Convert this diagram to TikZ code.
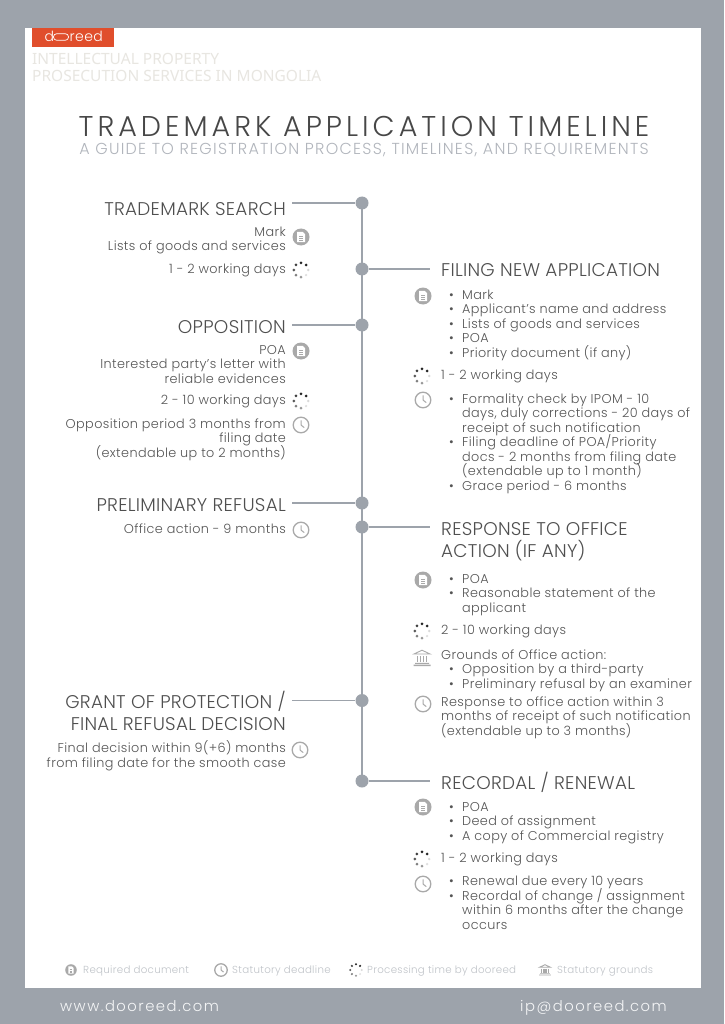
\documentclass[tikz,border=0pt]{standalone}
\usepackage{fontspec}
\setmainfont{Poppins Light}[LetterSpace=3]
\newfontfamily\headfont{Poppins Light}[LetterSpace=1.5]
\newfontfamily\titlefont{Poppins Light}[LetterSpace=14]
\newfontfamily\subfont{Poppins Light}[LetterSpace=8]
\newfontfamily\footfont{Poppins Light}[LetterSpace=10]
\newfontfamily\topfont{Noto Sans}
\definecolor{bgrey}{HTML}{9DA3AB}
\definecolor{txt}{HTML}{555555}
\definecolor{head}{HTML}{4F4F4F}
\definecolor{orng}{HTML}{E04E2C}
\definecolor{iconc}{HTML}{A9A9A9}
\definecolor{legc}{HTML}{BFC3C8}
\definecolor{topc}{HTML}{E8E6E1}
\newcommand{\tightls}{\lineskiplimit=-30pt\relax}
\newcommand{\bodyf}{\tightls\fontsize{12.8}{14.45}\selectfont}
\newcommand{\headf}{\tightls\headfont\fontsize{18.4}{22}\selectfont}
\newcommand{\topf}{\tightls\topfont\fontsize{15.5}{17.5}\selectfont}
\newcommand{\blt}{\leavevmode\llap{\textbullet\hspace{8.5pt}}}
\tikzset{
 body/.style={inner sep=0pt,font=\bodyf,text=txt},
 rtxt/.style={body,anchor=base east,align=right},
 ltxt/.style={body,anchor=base west,align=left},
 rhead/.style={inner sep=0pt,anchor=base east,align=right,text=head,font=\headf},
 lhead/.style={inner sep=0pt,anchor=base west,align=left,text=head,font=\headf},
 dotn/.style={circle,fill=bgrey,inner sep=0pt,minimum size=13pt},
 tline/.style={draw=bgrey,line width=1.8pt},
 legt/.style={inner sep=0pt,anchor=base west,text=legc,font=\fontsize{10.25}{12}\selectfont},
 docicon/.pic={
  \fill[iconc] (0,0) circle (8.5);
  \fill[white] (-3.8,-5.2) -- (1.6,-5.2) -- (4,-2.8) -- (4,5.2) -- (-3.8,5.2) -- cycle;
  \draw[iconc,line width=.6pt] (-2,-.5) -- (2.2,-.5) (-2,1.3) -- (2.2,1.3) (-2,3) -- (2.2,3);
 },
 spinicon/.pic={
  \foreach \a/\g/\r in {-90/85/1.5,-45/85/1.5,0/15/1.3,45/12/1.3,90/40/1.5,135/50/1.5,180/65/1.5,-135/75/1.5}
   \fill[black!\g] (\a:7.2) circle (\r);
 },
 clockicon/.pic={
  \draw[iconc,line width=1.3pt] (0,0) circle (7.8);
  \draw[iconc,line width=1pt] (0,-4.6) -- (0,0) -- (3.2,2.6);
 },
 bankicon/.pic={
  \draw[iconc,line width=.9pt] (-8,-4) -- (0,-7.8) -- (8,-4) -- cycle;
  \draw[iconc,line width=1.2pt] (-4.6,-2.2) -- (-4.6,4.2) (-1.6,-2.2) -- (-1.6,4.2) (1.6,-2.2) -- (1.6,4.2) (4.6,-2.2) -- (4.6,4.2);
  \fill[iconc] (-7,4.8) rectangle (7,5.8) (-8.5,6.6) rectangle (8.5,8);
 },
}
\begin{document}
\begin{tikzpicture}[x=1pt,y=-1pt]
\useasboundingbox (0,0) rectangle (724,1024);
\fill[bgrey] (0,0) rectangle (724,1024);
\fill[white] (25,28) rectangle (701,988);
\fill[orng] (32,28) rectangle (113.5,47);
% logo
\node[inner sep=0pt,anchor=base west,text=white,font=\fontsize{14}{14}\selectfont] (logod) at (44.5,42) {d};
\draw[white,line width=.7pt,rounded corners=3pt] (53.5,33.8) rectangle (68.5,40.2);
\node[inner sep=0pt,anchor=base west,text=white,font=\fontsize{14}{14}\selectfont] (logor) at (69.5,42) {reed};
% header
\node[inner sep=0pt,anchor=base west,align=left,text=topc,font=\topf] (top) at (32,82) {INTELLECTUAL PROPERTY\\PROSECUTION SERVICES IN MONGOLIA};
\node[inner sep=0pt,anchor=base,text height=21pt,text depth=0pt,text=black!72,font=\titlefont\fontsize{28.6}{30}\selectfont] (title) at (364,137) {TRADEMARK APPLICATION TIMELINE};
\node[inner sep=0pt,anchor=base,text height=11.5pt,text depth=1pt,text=bgrey!80,font=\subfont\fontsize{15.9}{17}\selectfont] (sub) at (364,155) {A GUIDE TO REGISTRATION PROCESS, TIMELINES, AND REQUIREMENTS};
% timeline
\node[dotn] (d1) at (362,203) {};
\node[dotn] (d2) at (362,269) {};
\node[dotn] (d3) at (362,325) {};
\node[dotn] (d4) at (362,503) {};
\node[dotn] (d5) at (362,527) {};
\node[dotn] (d6) at (362,700.5) {};
\node[dotn] (d7) at (362,781) {};
\coordinate (e1) at (292,203);
\coordinate (e2) at (430,269);
\coordinate (e3) at (292,325);
\coordinate (e4) at (292,503);
\coordinate (e5) at (430,527);
\coordinate (e6) at (292,700.5);
\coordinate (e7) at (430,781);
\draw[tline] (d1.center) -- (d7.center);
\draw[tline] (e1) -- (d1) (d2) -- (e2) (e3) -- (d3) (e4) -- (d4) (d5) -- (e5) (e6) -- (d6) (d7) -- (e7);
% left column
\node[rhead] (h1) at (286,216) {TRADEMARK SEARCH};
\node[rtxt] (l1) at (286,251) {Mark\\Lists of goods and services};
\node[rtxt] (l2) at (286,273) {1 - 2 working days};
\node[rhead] (h2) at (286,333) {OPPOSITION};
\node[rtxt] (l3) at (286,383) {POA\\Interested party's letter with\\reliable evidences};
\node[rtxt] (l4) at (286,404) {2 - 10 working days};
\node[rtxt] (l5) at (286,457) {Opposition period 3 months from\\filing date\\(extendable up to 2 months)};
\node[rhead] (h3) at (286,511) {PRELIMINARY REFUSAL};
\node[rtxt] (l6) at (286,533) {Office action - 9 months};
\node[rhead] (h4) at (286,730) {GRANT OF PROTECTION /\\FINAL REFUSAL DECISION};
\node[rtxt] (l7) at (286,767) {Final decision within 9(+6) months\\from filing date for the smooth case};
% right column
\node[lhead] (h5) at (441,276.5) {FILING NEW APPLICATION};
\node[ltxt] (r1) at (462,357) {\blt Mark\\\blt Applicant's name and address\\\blt Lists of goods and services\\\blt POA\\\blt Priority document (if any)};
\node[ltxt] (r2) at (441,379) {1 - 2 working days};
\node[ltxt] (r3) at (462,490) {\blt Formality check by IPOM - 10\\days, duly corrections - 20 days of\\receipt of such notification\\\blt Filing deadline of POA/Priority\\docs - 2 months from filing date\\(extendable up to 1 month)\\\blt Grace period - 6 months};
\node[lhead] (h6) at (441,557) {RESPONSE TO OFFICE\\ACTION (IF ANY)};
\node[ltxt] (r4) at (462,612) {\blt POA\\\blt Reasonable statement of the\\applicant};
\node[ltxt] (r5) at (441,634) {2 - 10 working days};
\node[ltxt] (r6) at (441,659) {Grounds of Office action:};
\node[ltxt] (r7) at (462,688) {\blt Opposition by a third-party\\\blt Preliminary refusal by an examiner};
\node[ltxt] (r8) at (441,735) {Response to office action within 3\\months of receipt of such notification\\(extendable up to 3 months)};
\node[lhead] (h7) at (441,789) {RECORDAL / RENEWAL};
\node[ltxt] (r9) at (462,840) {\blt POA\\\blt Deed of assignment\\\blt A copy of Commercial registry};
\node[ltxt] (r10) at (441,862) {1 - 2 working days};
\node[ltxt] (r11) at (462,929) {\blt Renewal due every 10 years\\\blt Recordal of change / assignment\\within 6 months after the change\\occurs};
% icons
\pic at (301,237) {docicon};
\pic at (301,270) {spinicon};
\pic at (301,351) {docicon};
\pic at (301,401) {spinicon};
\pic at (301,425) {clockicon};
\pic at (301,530) {clockicon};
\pic at (300,750) {clockicon};
\pic at (423,296) {docicon};
\pic at (422,376) {spinicon};
\pic at (423,400) {clockicon};
\pic at (423,580) {docicon};
\pic at (422,631) {spinicon};
\pic at (422,658) {bankicon};
\pic at (423,704) {clockicon};
\pic at (423,807) {docicon};
\pic at (422,859) {spinicon};
\pic at (423,884) {clockicon};
% legend
\pic[scale=.68] at (71,970) {docicon};
\pic[scale=.8] at (221,970) {clockicon};
\pic[scale=.8] at (356,970) {spinicon};
\pic[scale=.68] at (545,970) {bankicon};
\node[legt] (lg1) at (83,973.5) {Required document};
\node[legt] (lg2) at (232,973.5) {Statutory deadline};
\node[legt] (lg3) at (367,973.5) {Processing time by dooreed};
\node[legt] (lg4) at (557,973.5) {Statutory grounds};
% footer
\node[inner sep=0pt,anchor=base west,text=white!90!bgrey,font=\footfont\fontsize{14.8}{16}\selectfont] (f1) at (60,1011) {www.dooreed.com};
\node[inner sep=0pt,anchor=base east,text=white!90!bgrey,font=\footfont\fontsize{14.8}{16}\selectfont] (f2) at (667,1011) {ip@dooreed.com};
\end{tikzpicture}
\end{document}
